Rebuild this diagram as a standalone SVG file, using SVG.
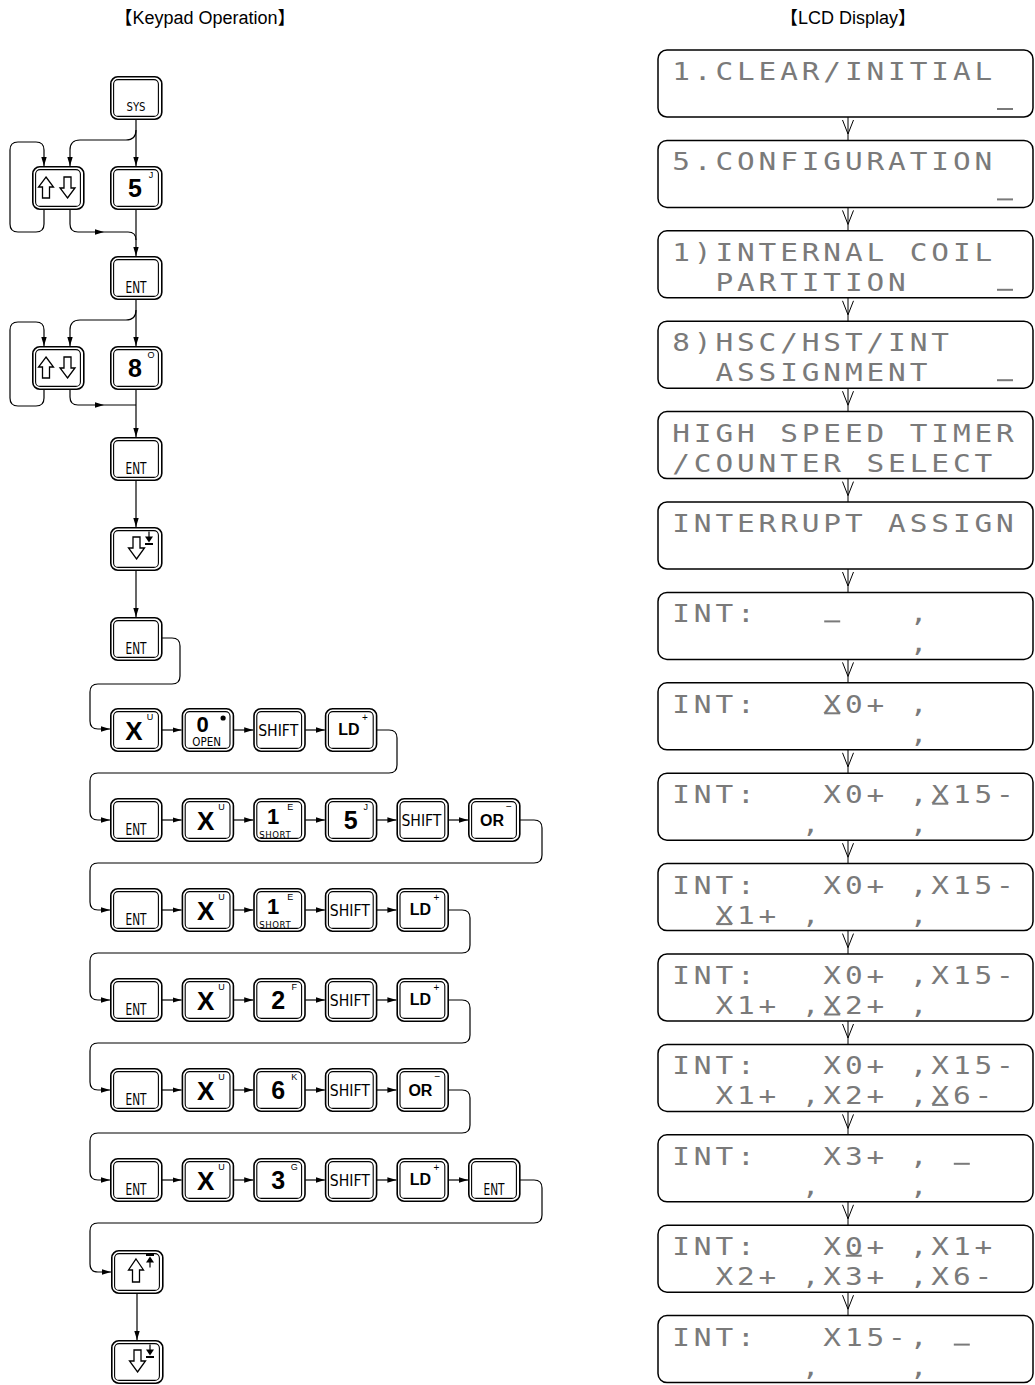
<svg xmlns="http://www.w3.org/2000/svg" width="1035" height="1385" viewBox="0 0 1035 1385">
<style>
.ko{fill:#fff;stroke:#000;stroke-width:1.6}
.ki{fill:none;stroke:#000;stroke-width:1.1}
.kt{font-family:"DejaVu Sans Condensed","DejaVu Sans",sans-serif;fill:#000;text-anchor:middle}
.kb{font-family:"Liberation Sans",Arial,sans-serif;font-weight:bold;fill:#000;text-anchor:middle}
.ks{font-family:"Liberation Sans",Arial,sans-serif;font-size:9px;font-weight:normal}
.kc{font-family:"DejaVu Sans Condensed","DejaVu Sans",sans-serif;font-weight:normal}
.ar{fill:#fff;stroke:#000;stroke-width:1.3;stroke-linejoin:miter}
.c{fill:none;stroke:#000;stroke-width:1.2}
.lcd{fill:#fff;stroke:#000;stroke-width:1.5}
.lt{font-family:"DejaVu Sans Mono","Liberation Mono",monospace;font-size:24.5px;letter-spacing:3.25px;fill:#7a7a7a;white-space:pre}
.cur{fill:#7a7a7a}
.v{fill:none;stroke:#000;stroke-width:1}
.hd{font-family:"Liberation Sans","Noto Sans CJK JP",sans-serif;font-size:18px;fill:#000;text-anchor:middle}
</style>
<defs>
<g id="kf"><rect class="ko" x="0.8" y="0.8" width="51" height="42.4" rx="7"/><rect class="ki" x="3.6" y="3.6" width="44.8" height="36.8" rx="4.5"/></g>
<marker id="ah" markerWidth="10" markerHeight="8" refX="9" refY="4" orient="auto" markerUnits="userSpaceOnUse"><path d="M0,1.3 L9,4 L0,6.7 Z" fill="#000"/></marker>
</defs>

<text class="hd" x="205" y="24" xml:space="preserve">【Keypad Operation】</text>
<text class="hd" x="848" y="24" xml:space="preserve">【LCD Display】</text>

<g id="connectors">
<path class="c" d="M136,118 V166" marker-end="url(#ah)"/>
<path class="c" d="M136,130 Q136,140 126,140 H80 Q70,140 70,150 V166" marker-end="url(#ah)"/>
<path class="c" d="M44,209 V224 Q44,232 36,232 H18 Q10,232 10,224 V150 Q10,142 18,142 H36 Q44,142 44,150 V166" marker-end="url(#ah)"/>
<path class="c" d="M70,209 V224 Q70,232 78,232 H128 Q136,232 136,240"/>
<path d="M95,229.3 L104,232 L95,234.7 Z" fill="#000"/>
<path class="c" d="M136,209 V256" marker-end="url(#ah)"/>

<path class="c" d="M136,300 V346" marker-end="url(#ah)"/>
<path class="c" d="M136,310 Q136,320 126,320 H80 Q70,320 70,330 V346" marker-end="url(#ah)"/>
<path class="c" d="M44,389 V398 Q44,406 36,406 H18 Q10,406 10,398 V330 Q10,322 18,322 H36 Q44,322 44,330 V346" marker-end="url(#ah)"/>
<path class="c" d="M70,389 V397 Q70,405 78,405 H136"/>
<path d="M95,402.3 L104,405 L95,407.7 Z" fill="#000"/>
<path class="c" d="M136,389 V437" marker-end="url(#ah)"/>

<path class="c" d="M136,481 V527" marker-end="url(#ah)"/>
<path class="c" d="M136,571 V617" marker-end="url(#ah)"/>
<path class="c" d="M162,638 H172 Q180,638 180,646 V676 Q180,684 172,684 H98 Q90,684 90,692 V721 Q90,729 98,729 H110" marker-end="url(#ah)"/>

<path class="c" d="M162,730 H181.6" marker-end="url(#ah)"/>
<path class="c" d="M233.6,730 H253.2" marker-end="url(#ah)"/>
<path class="c" d="M305.2,730 H324.8" marker-end="url(#ah)"/>
<path class="c" d="M376.8,730 H389 Q397,730 397,738 V765 Q397,773 389,773 H98 Q90,773 90,781 V812 Q90,820 98,820 H110" marker-end="url(#ah)"/>

<path class="c" d="M162,820 H181.6" marker-end="url(#ah)"/>
<path class="c" d="M233.6,820 H253.2" marker-end="url(#ah)"/>
<path class="c" d="M305.2,820 H324.8" marker-end="url(#ah)"/>
<path class="c" d="M376.8,820 H396.4" marker-end="url(#ah)"/>
<path class="c" d="M448.4,820 H468" marker-end="url(#ah)"/>
<path class="c" d="M520,820 H534 Q542,820 542,828 V855 Q542,863 534,863 H98 Q90,863 90,871 V902 Q90,910 98,910 H110" marker-end="url(#ah)"/>

<path class="c" d="M162,910 H181.6" marker-end="url(#ah)"/>
<path class="c" d="M233.6,910 H253.2" marker-end="url(#ah)"/>
<path class="c" d="M305.2,910 H324.8" marker-end="url(#ah)"/>
<path class="c" d="M376.8,910 H396.4" marker-end="url(#ah)"/>
<path class="c" d="M448.4,910 H462 Q470,910 470,918 V945 Q470,953 462,953 H98 Q90,953 90,961 V992 Q90,1000 98,1000 H110" marker-end="url(#ah)"/>

<path class="c" d="M162,1000 H181.6" marker-end="url(#ah)"/>
<path class="c" d="M233.6,1000 H253.2" marker-end="url(#ah)"/>
<path class="c" d="M305.2,1000 H324.8" marker-end="url(#ah)"/>
<path class="c" d="M376.8,1000 H396.4" marker-end="url(#ah)"/>
<path class="c" d="M448.4,1000 H462 Q470,1000 470,1008 V1035 Q470,1043 462,1043 H98 Q90,1043 90,1051 V1082 Q90,1090 98,1090 H110" marker-end="url(#ah)"/>

<path class="c" d="M162,1090 H181.6" marker-end="url(#ah)"/>
<path class="c" d="M233.6,1090 H253.2" marker-end="url(#ah)"/>
<path class="c" d="M305.2,1090 H324.8" marker-end="url(#ah)"/>
<path class="c" d="M376.8,1090 H396.4" marker-end="url(#ah)"/>
<path class="c" d="M448.4,1090 H462 Q470,1090 470,1098 V1125 Q470,1133 462,1133 H98 Q90,1133 90,1141 V1172 Q90,1180 98,1180 H110" marker-end="url(#ah)"/>

<path class="c" d="M162,1180 H181.6" marker-end="url(#ah)"/>
<path class="c" d="M233.6,1180 H253.2" marker-end="url(#ah)"/>
<path class="c" d="M305.2,1180 H324.8" marker-end="url(#ah)"/>
<path class="c" d="M376.8,1180 H396.4" marker-end="url(#ah)"/>
<path class="c" d="M448.4,1180 H468" marker-end="url(#ah)"/>
<path class="c" d="M520,1180 H534 Q542,1180 542,1188 V1215 Q542,1223 534,1223 H98 Q90,1223 90,1231 V1264 Q90,1272 98,1272 H111" marker-end="url(#ah)"/>

<path class="c" d="M137,1294 V1340" marker-end="url(#ah)"/>

<path class="v" d="M848,117 V140.4 M842.5,120 L848,134 L853.5,120"/>
<path class="v" d="M848,207.4 V230.8 M842.5,210.4 L848,224.4 L853.5,210.4"/>
<path class="v" d="M848,297.8 V321.2 M842.5,300.8 L848,314.8 L853.5,300.8"/>
<path class="v" d="M848,388.2 V411.6 M842.5,391.2 L848,405.2 L853.5,391.2"/>
<path class="v" d="M848,478.6 V502 M842.5,481.6 L848,495.6 L853.5,481.6"/>
<path class="v" d="M848,569 V592.4 M842.5,572 L848,586 L853.5,572"/>
<path class="v" d="M848,659.4 V682.8 M842.5,662.4 L848,676.4 L853.5,662.4"/>
<path class="v" d="M848,749.8 V773.2 M842.5,752.8 L848,766.8 L853.5,752.8"/>
<path class="v" d="M848,840.2 V863.6 M842.5,843.2 L848,857.2 L853.5,843.2"/>
<path class="v" d="M848,930.6 V954 M842.5,933.6 L848,947.6 L853.5,933.6"/>
<path class="v" d="M848,1021 V1044.4 M842.5,1024 L848,1038 L853.5,1024"/>
<path class="v" d="M848,1111.4 V1134.8 M842.5,1114.4 L848,1128.4 L853.5,1114.4"/>
<path class="v" d="M848,1201.8 V1225.2 M842.5,1204.8 L848,1218.8 L853.5,1204.8"/>
<path class="v" d="M848,1292.2 V1315.6 M842.5,1295.2 L848,1309.2 L853.5,1295.2"/>
</g>

<!-- keypad column -->
<g id="k-sys" transform="translate(110,76)"><use href="#kf"/><text class="kt" x="26" y="35" font-size="13" textLength="19" lengthAdjust="spacingAndGlyphs">SYS</text></g>
<g id="k-5a" transform="translate(110,166)"><use href="#kf"/><text class="kb" x="25" y="31" font-size="25">5<tspan class="ks" x="41" y="12">J</tspan></text></g>
<g id="k-ud1" transform="translate(32,166)"><use href="#kf"/><path class="ar" d="M14,11 L21.5,21 H17.5 V32 H10.5 V21 H6.5 Z"/><path class="ar" d="M35.5,32 L43,22 H39 V11 H32 V22 H28 Z"/></g>
<g id="k-ent1" transform="translate(110,256)"><use href="#kf"/><text class="kt" x="26" y="37" font-size="15" textLength="21" lengthAdjust="spacingAndGlyphs">ENT</text></g>
<g id="k-ud2" transform="translate(32,346)"><use href="#kf"/><path class="ar" d="M14,11 L21.5,21 H17.5 V32 H10.5 V21 H6.5 Z"/><path class="ar" d="M35.5,32 L43,22 H39 V11 H32 V22 H28 Z"/></g>
<g id="k-8" transform="translate(110,346)"><use href="#kf"/><text class="kb" x="25" y="31" font-size="25">8<tspan class="ks" x="41" y="12">O</tspan></text></g>
<g id="k-ent2" transform="translate(110,437)"><use href="#kf"/><text class="kt" x="26" y="37" font-size="15" textLength="21" lengthAdjust="spacingAndGlyphs">ENT</text></g>
<g id="k-dn1" transform="translate(110,527)"><use href="#kf"/><path class="ar" d="M26.5,32 L34.5,21 H30 V10 H23 V21 H18.5 Z"/><path d="M39,4.5 V11" stroke="#000" stroke-width="1.2"/><path d="M35,9.5 H43 L39,15.5 Z" fill="#000"/><path d="M35,17 H43" stroke="#000" stroke-width="2"/></g>
<g id="k-ent3" transform="translate(110,617)"><use href="#kf"/><text class="kt" x="26" y="37" font-size="15" textLength="21" lengthAdjust="spacingAndGlyphs">ENT</text></g>

<!-- row 0 -->
<g id="k-r0-x" transform="translate(110,708)"><use href="#kf"/><text class="kb" x="24" y="32" font-size="26">X<tspan class="ks" x="40" y="12">U</tspan></text></g>
<g id="k-r0-0" transform="translate(181.6,708)"><use href="#kf"/><circle cx="41.5" cy="10" r="2.6" fill="#000"/><text class="kb" x="21" y="24" font-size="22">0<tspan class="kc" x="25" y="38" style="font-size:11.5px">OPEN</tspan></text></g>
<g id="k-r0-shift" transform="translate(253.2,708)"><use href="#kf"/><text class="kt" x="25" y="28" font-size="16" textLength="40" lengthAdjust="spacingAndGlyphs">SHIFT</text></g>
<g id="k-r0-ld" transform="translate(324.8,708)"><use href="#kf"/><text class="kb" x="24" y="27" font-size="16">LD<tspan class="ks" x="40" y="13" style="font-size:10px">+</tspan></text></g>

<!-- row 1 -->
<g id="k-r1-ent" transform="translate(110,798)"><use href="#kf"/><text class="kt" x="26" y="37" font-size="15" textLength="21" lengthAdjust="spacingAndGlyphs">ENT</text></g>
<g id="k-r1-x" transform="translate(181.6,798)"><use href="#kf"/><text class="kb" x="24" y="32" font-size="26">X<tspan class="ks" x="40" y="12">U</tspan></text></g>
<g id="k-r1-1" transform="translate(253.2,798)"><use href="#kf"/><text class="kb" x="20" y="26" font-size="22">1<tspan class="ks" x="37" y="12">E</tspan><tspan class="kc" x="22" y="39.8" style="font-size:9.5px;letter-spacing:0.6px">SHORT</tspan></text></g>
<g id="k-r1-5" transform="translate(324.8,798)"><use href="#kf"/><text class="kb" x="26" y="31" font-size="25">5<tspan class="ks" x="41" y="12">J</tspan></text></g>
<g id="k-r1-shift" transform="translate(396.4,798)"><use href="#kf"/><text class="kt" x="25" y="28" font-size="16" textLength="40" lengthAdjust="spacingAndGlyphs">SHIFT</text></g>
<g id="k-r1-or" transform="translate(468,798)"><use href="#kf"/><text class="kb" x="24" y="28" font-size="16">OR<tspan class="ks" x="41" y="12" style="font-size:10px">−</tspan></text></g>

<!-- row 2 -->
<g id="k-r2-ent" transform="translate(110,888)"><use href="#kf"/><text class="kt" x="26" y="37" font-size="15" textLength="21" lengthAdjust="spacingAndGlyphs">ENT</text></g>
<g id="k-r2-x" transform="translate(181.6,888)"><use href="#kf"/><text class="kb" x="24" y="32" font-size="26">X<tspan class="ks" x="40" y="12">U</tspan></text></g>
<g id="k-r2-1" transform="translate(253.2,888)"><use href="#kf"/><text class="kb" x="20" y="26" font-size="22">1<tspan class="ks" x="37" y="12">E</tspan><tspan class="kc" x="22" y="39.8" style="font-size:9.5px;letter-spacing:0.6px">SHORT</tspan></text></g>
<g id="k-r2-shift" transform="translate(324.8,888)"><use href="#kf"/><text class="kt" x="25" y="28" font-size="16" textLength="40" lengthAdjust="spacingAndGlyphs">SHIFT</text></g>
<g id="k-r2-ld" transform="translate(396.4,888)"><use href="#kf"/><text class="kb" x="24" y="27" font-size="16">LD<tspan class="ks" x="40" y="13" style="font-size:10px">+</tspan></text></g>

<!-- row 3 -->
<g id="k-r3-ent" transform="translate(110,978)"><use href="#kf"/><text class="kt" x="26" y="37" font-size="15" textLength="21" lengthAdjust="spacingAndGlyphs">ENT</text></g>
<g id="k-r3-x" transform="translate(181.6,978)"><use href="#kf"/><text class="kb" x="24" y="32" font-size="26">X<tspan class="ks" x="40" y="12">U</tspan></text></g>
<g id="k-r3-2" transform="translate(253.2,978)"><use href="#kf"/><text class="kb" x="25" y="31" font-size="25">2<tspan class="ks" x="41" y="12">F</tspan></text></g>
<g id="k-r3-shift" transform="translate(324.8,978)"><use href="#kf"/><text class="kt" x="25" y="28" font-size="16" textLength="40" lengthAdjust="spacingAndGlyphs">SHIFT</text></g>
<g id="k-r3-ld" transform="translate(396.4,978)"><use href="#kf"/><text class="kb" x="24" y="27" font-size="16">LD<tspan class="ks" x="40" y="13" style="font-size:10px">+</tspan></text></g>

<!-- row 4 -->
<g id="k-r4-ent" transform="translate(110,1068)"><use href="#kf"/><text class="kt" x="26" y="37" font-size="15" textLength="21" lengthAdjust="spacingAndGlyphs">ENT</text></g>
<g id="k-r4-x" transform="translate(181.6,1068)"><use href="#kf"/><text class="kb" x="24" y="32" font-size="26">X<tspan class="ks" x="40" y="12">U</tspan></text></g>
<g id="k-r4-6" transform="translate(253.2,1068)"><use href="#kf"/><text class="kb" x="25" y="31" font-size="25">6<tspan class="ks" x="41" y="12">K</tspan></text></g>
<g id="k-r4-shift" transform="translate(324.8,1068)"><use href="#kf"/><text class="kt" x="25" y="28" font-size="16" textLength="40" lengthAdjust="spacingAndGlyphs">SHIFT</text></g>
<g id="k-r4-or" transform="translate(396.4,1068)"><use href="#kf"/><text class="kb" x="24" y="28" font-size="16">OR<tspan class="ks" x="41" y="12" style="font-size:10px">−</tspan></text></g>

<!-- row 5 -->
<g id="k-r5-ent" transform="translate(110,1158)"><use href="#kf"/><text class="kt" x="26" y="37" font-size="15" textLength="21" lengthAdjust="spacingAndGlyphs">ENT</text></g>
<g id="k-r5-x" transform="translate(181.6,1158)"><use href="#kf"/><text class="kb" x="24" y="32" font-size="26">X<tspan class="ks" x="40" y="12">U</tspan></text></g>
<g id="k-r5-3" transform="translate(253.2,1158)"><use href="#kf"/><text class="kb" x="25" y="31" font-size="25">3<tspan class="ks" x="41" y="12">G</tspan></text></g>
<g id="k-r5-shift" transform="translate(324.8,1158)"><use href="#kf"/><text class="kt" x="25" y="28" font-size="16" textLength="40" lengthAdjust="spacingAndGlyphs">SHIFT</text></g>
<g id="k-r5-ld" transform="translate(396.4,1158)"><use href="#kf"/><text class="kb" x="24" y="27" font-size="16">LD<tspan class="ks" x="40" y="13" style="font-size:10px">+</tspan></text></g>
<g id="k-r5-ent2" transform="translate(468,1158)"><use href="#kf"/><text class="kt" x="26" y="37" font-size="15" textLength="21" lengthAdjust="spacingAndGlyphs">ENT</text></g>

<g id="k-up" transform="translate(111,1250)"><use href="#kf"/><path class="ar" d="M25,9 L32.5,20 H28.5 V32 H21.5 V20 H17.5 Z"/><path d="M35,5 H43" stroke="#000" stroke-width="2"/><path d="M35,12.5 H43 L39,6.5 Z" fill="#000"/><path d="M39,11 V17.5" stroke="#000" stroke-width="1.2"/></g>
<g id="k-dn2" transform="translate(111,1340)"><use href="#kf"/><path class="ar" d="M26.5,32 L34.5,21 H30 V10 H23 V21 H18.5 Z"/><path d="M39,4.5 V11" stroke="#000" stroke-width="1.2"/><path d="M35,9.5 H43 L39,15.5 Z" fill="#000"/><path d="M35,17 H43" stroke="#000" stroke-width="2"/></g>

<!-- LCD panels -->
<g id="lcd1"><rect class="lcd" x="658" y="50" width="375" height="67" rx="9"/><text class="lt" transform="translate(672.2,80) scale(1.2,1)">1.CLEAR/INITIAL</text><rect class="cur" x="997" y="108" width="16" height="2"/></g>
<g id="lcd2"><rect class="lcd" x="658" y="140.4" width="375" height="67" rx="9"/><text class="lt" transform="translate(672.2,170.4) scale(1.2,1)">5.CONFIGURATION</text><rect class="cur" x="997" y="198.4" width="16" height="2"/></g>
<g id="lcd3"><rect class="lcd" x="658" y="230.8" width="375" height="67" rx="9"/><text class="lt" transform="translate(672.2,260.8) scale(1.2,1)">1)INTERNAL COIL</text><text class="lt" transform="translate(672.2,290.8) scale(1.2,1)">  PARTITION</text><rect class="cur" x="997" y="288.8" width="16" height="2"/></g>
<g id="lcd4"><rect class="lcd" x="658" y="321.2" width="375" height="67" rx="9"/><text class="lt" transform="translate(672.2,351.2) scale(1.2,1)">8)HSC/HST/INT</text><text class="lt" transform="translate(672.2,381.2) scale(1.2,1)">  ASSIGNMENT</text><rect class="cur" x="997" y="379.2" width="16" height="2"/></g>
<g id="lcd5"><rect class="lcd" x="658" y="411.6" width="375" height="67" rx="9"/><text class="lt" transform="translate(672.2,441.6) scale(1.2,1)">HIGH SPEED TIMER</text><text class="lt" transform="translate(672.2,471.6) scale(1.2,1)">/COUNTER SELECT</text></g>
<g id="lcd6"><rect class="lcd" x="658" y="502" width="375" height="67" rx="9"/><text class="lt" transform="translate(672.2,532) scale(1.2,1)">INTERRUPT ASSIGN</text></g>
<g id="lcd7"><rect class="lcd" x="658" y="592.4" width="375" height="67" rx="9"/><text class="lt" transform="translate(672.2,622.4) scale(1.2,1)">INT:       ,</text><rect class="cur" x="824.2" y="620.4" width="16" height="2"/><text class="lt" transform="translate(672.2,652.4) scale(1.2,1)">           ,</text></g>
<g id="lcd8"><rect class="lcd" x="658" y="682.8" width="375" height="67" rx="9"/><text class="lt" transform="translate(672.2,712.8) scale(1.2,1)">INT:   X0+ ,</text><rect class="cur" x="824.2" y="712.3" width="16" height="2"/><text class="lt" transform="translate(672.2,742.8) scale(1.2,1)">           ,</text></g>
<g id="lcd9"><rect class="lcd" x="658" y="773.2" width="375" height="67" rx="9"/><text class="lt" transform="translate(672.2,803.2) scale(1.2,1)">INT:   X0+ ,X15-</text><rect class="cur" x="932.2" y="802.7" width="16" height="2"/><text class="lt" transform="translate(672.2,833.2) scale(1.2,1)">      ,    ,</text></g>
<g id="lcd10"><rect class="lcd" x="658" y="863.6" width="375" height="67" rx="9"/><text class="lt" transform="translate(672.2,893.6) scale(1.2,1)">INT:   X0+ ,X15-</text><text class="lt" transform="translate(672.2,923.6) scale(1.2,1)">  X1+ ,    ,</text><rect class="cur" x="716.2" y="923.1" width="16" height="2"/></g>
<g id="lcd11"><rect class="lcd" x="658" y="954" width="375" height="67" rx="9"/><text class="lt" transform="translate(672.2,984) scale(1.2,1)">INT:   X0+ ,X15-</text><text class="lt" transform="translate(672.2,1014) scale(1.2,1)">  X1+ ,X2+ ,</text><rect class="cur" x="824.2" y="1013.5" width="16" height="2"/></g>
<g id="lcd12"><rect class="lcd" x="658" y="1044.4" width="375" height="67" rx="9"/><text class="lt" transform="translate(672.2,1074.4) scale(1.2,1)">INT:   X0+ ,X15-</text><text class="lt" transform="translate(672.2,1104.4) scale(1.2,1)">  X1+ ,X2+ ,X6-</text><rect class="cur" x="932.2" y="1103.9" width="16" height="2"/></g>
<g id="lcd13"><rect class="lcd" x="658" y="1134.8" width="375" height="67" rx="9"/><text class="lt" transform="translate(672.2,1164.8) scale(1.2,1)">INT:   X3+ ,</text><rect class="cur" x="953.8" y="1162.8" width="16" height="2"/><text class="lt" transform="translate(672.2,1194.8) scale(1.2,1)">      ,    ,</text></g>
<g id="lcd14"><rect class="lcd" x="658" y="1225.2" width="375" height="67" rx="9"/><text class="lt" transform="translate(672.2,1255.2) scale(1.2,1)">INT:   X0+ ,X1+</text><rect class="cur" x="845.8" y="1254.7" width="16" height="2"/><text class="lt" transform="translate(672.2,1285.2) scale(1.2,1)">  X2+ ,X3+ ,X6-</text></g>
<g id="lcd15"><rect class="lcd" x="658" y="1315.6" width="375" height="67" rx="9"/><text class="lt" transform="translate(672.2,1345.6) scale(1.2,1)">INT:   X15-,</text><rect class="cur" x="953.8" y="1343.6" width="16" height="2"/><text class="lt" transform="translate(672.2,1375.6) scale(1.2,1)">      ,    ,</text></g>
</svg>
